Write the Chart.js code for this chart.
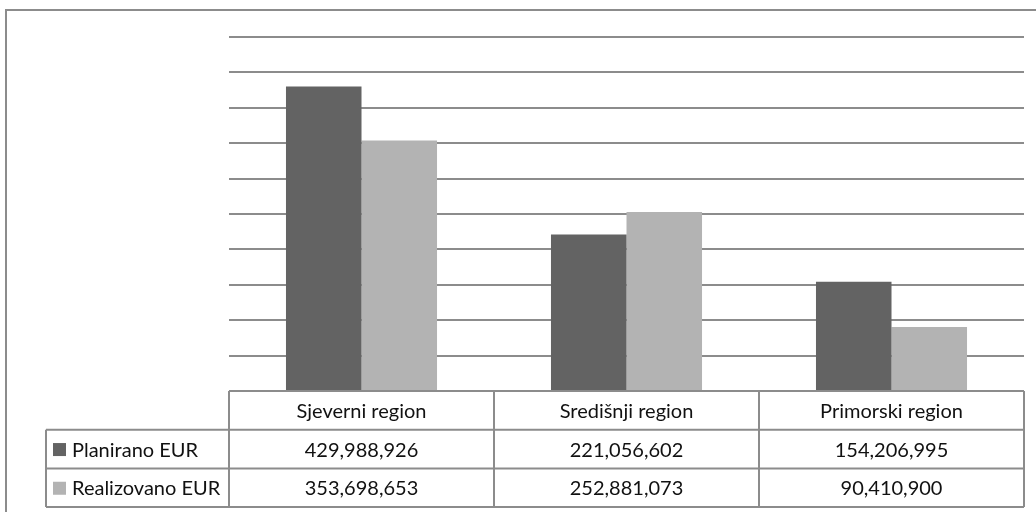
<!DOCTYPE html>
<html>
<head>
<meta charset="utf-8">
<script src="https://cdn.jsdelivr.net/npm/chart.js@4.4.1/dist/chart.umd.min.js"></script>
<style>
  html, body { margin: 0; padding: 0; background: #fff; }
  #wrap { width: 1036px; height: 512px; position: relative; }
</style>
</head>
<body>
<div id="wrap"><canvas id="chart"></canvas></div>
<script>
// data
const categories = ['Sjeverni region', 'Središnji region', 'Primorski region'];
const planirano = [429988926, 221056602, 154206995];
const realizovano = [353698653, 252881073, 90410900];
const seriesNames = ['Planirano EUR', 'Realizovano EUR'];
const seriesColors = ['#636363', '#b3b3b3'];

const LINE = '#8c8c8c';
const FONT = '20px Lato, "Open Sans", sans-serif';

// draws the outer frame and the data table under the bars
const tablePlugin = {
    id: 'dataTable',
    afterDraw(chart) {
        const ctx = chart.ctx;
        const area = chart.chartArea;
        const x = chart.scales.x;
        const n = categories.length;
        const colW = (area.right - area.left) / n;
        const rowH = 38.7;
        const top = area.bottom;
        const tableLeft = 46;
        const rows = [planirano, realizovano];

        ctx.save();
        ctx.strokeStyle = LINE;
        ctx.lineWidth = 2;

        // outer frame
        ctx.strokeRect(6, 10, 1100, 600);

        // header row
        ctx.beginPath();
        ctx.moveTo(area.left, top + rowH);
        ctx.lineTo(area.right, top + rowH);
        for (let i = 0; i <= n; i++) {
            const cx = area.left + i * colW;
            ctx.moveTo(cx, top);
            ctx.lineTo(cx, top + rowH * 3);
        }
        // series rows
        ctx.moveTo(tableLeft, top + rowH);
        ctx.lineTo(area.right, top + rowH);
        ctx.moveTo(tableLeft, top + rowH * 2);
        ctx.lineTo(area.right, top + rowH * 2);
        ctx.moveTo(tableLeft, top + rowH * 3);
        ctx.lineTo(area.right, top + rowH * 3);
        ctx.moveTo(tableLeft, top + rowH);
        ctx.lineTo(tableLeft, top + rowH * 3);
        ctx.stroke();

        ctx.font = FONT;
        ctx.fillStyle = '#111';
        ctx.textBaseline = 'middle';
        ctx.textAlign = 'center';
        categories.forEach((c, i) => {
            ctx.fillText(c, x.getPixelForValue(i), top + rowH / 2 + 1);
        });

        rows.forEach((vals, r) => {
            const cy = top + rowH * (r + 1.5) + 1;
            ctx.fillStyle = seriesColors[r];
            ctx.fillRect(tableLeft + 7, cy - 7, 13, 13);
            ctx.fillStyle = '#111';
            ctx.textAlign = 'left';
            ctx.fillText(seriesNames[r], tableLeft + 26, cy);
            ctx.textAlign = 'center';
            vals.forEach((v, i) => {
                ctx.fillText(v.toLocaleString('en-US'), x.getPixelForValue(i), cy);
            });
        });
        ctx.restore();
    }
};

new Chart(document.getElementById('chart'), {
    type: 'bar',
    data: {
        labels: categories,
        datasets: [
            { label: seriesNames[0], data: planirano, backgroundColor: seriesColors[0] },
            { label: seriesNames[1], data: realizovano, backgroundColor: seriesColors[1] }
        ]
    },
    options: {
        responsive: true,
        maintainAspectRatio: false,
        animation: false,
        layout: { padding: { left: 229, right: 12, top: 37, bottom: 121 } },
        categoryPercentage: 0.57,
        barPercentage: 1,
        plugins: {
            legend: { display: false },
            tooltip: { enabled: false }
        },
        scales: {
            x: { display: false },
            y: {
                min: 0,
                max: 500000000,
                ticks: { display: false, stepSize: 50000000 },
                grid: { color: LINE, lineWidth: 2, drawTicks: false },
                border: { display: false },
                afterFit: s => { s.width = 0; }
            }
        }
    },
    plugins: [tablePlugin]
});
</script>
</body>
</html>
